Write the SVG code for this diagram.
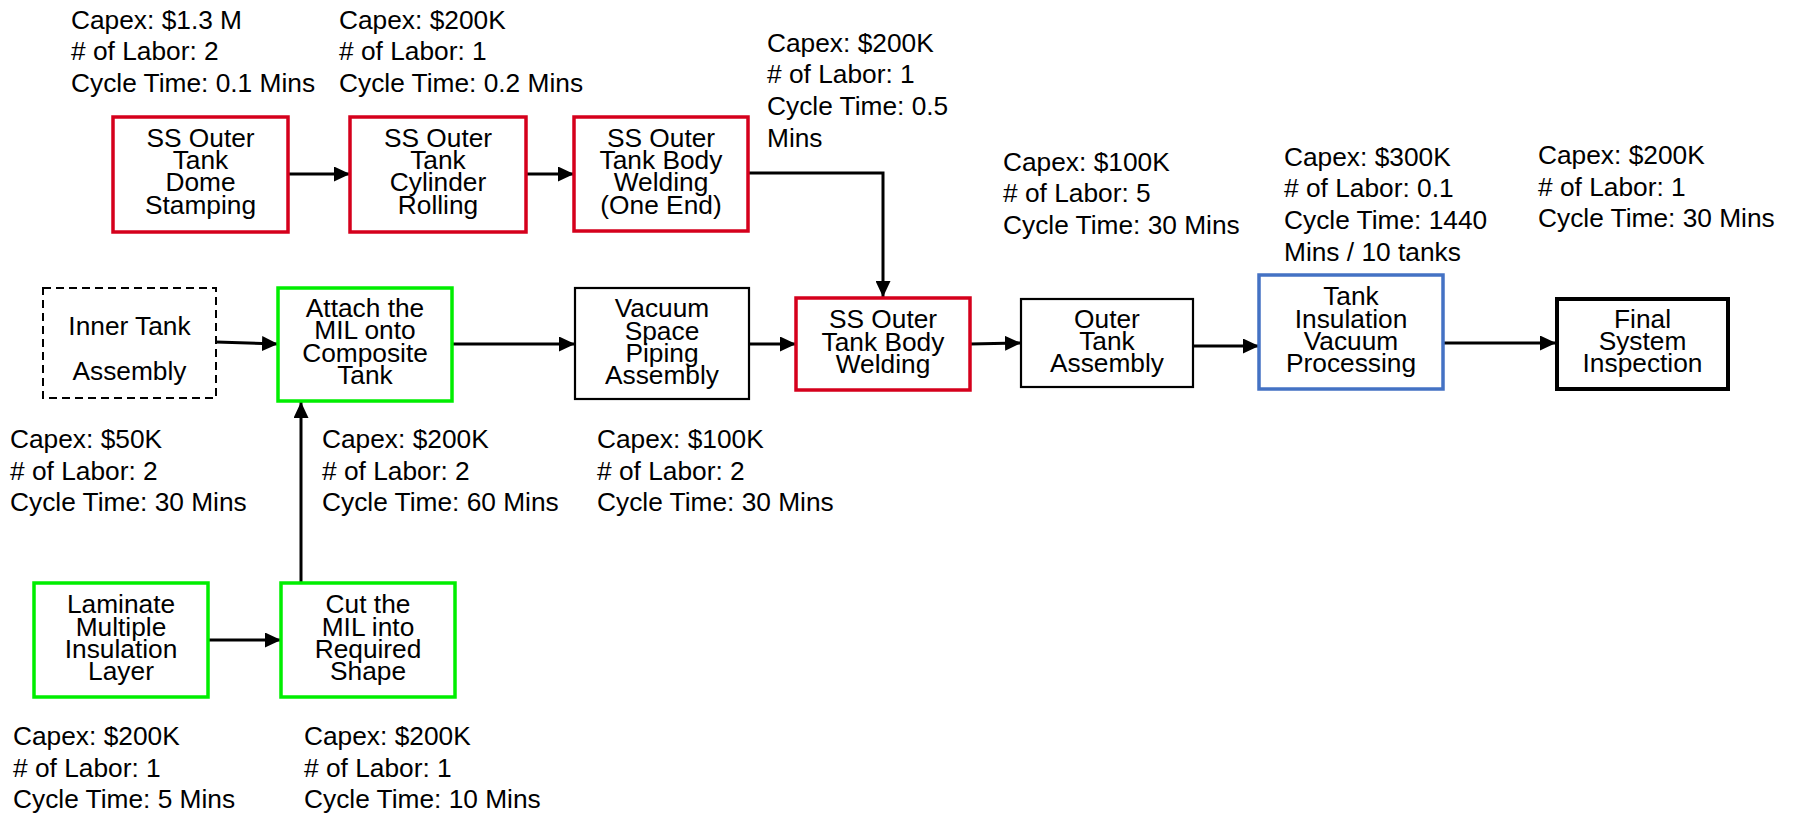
<svg xmlns="http://www.w3.org/2000/svg" width="1793" height="815" viewBox="0 0 1793 815">
<style>
  text { font-family: "Liberation Sans", Arial, sans-serif; font-size: 26.3px; fill: #000; }
  .lbl { text-anchor: middle; }
  .box { fill: #fff; stroke-width: 3.5; }
  .red { stroke: #D5001C; }
  .green { stroke: #00EE00; }
  .blue { stroke: #4472C4; }
  .plain { stroke: #000; stroke-width: 2.2; }
  .bold { stroke: #000; stroke-width: 4; }
  .dash { stroke: #000; stroke-width: 2; stroke-dasharray: 8 5; }
  .conn { fill: none; stroke: #000; stroke-width: 3; marker-end: url(#arr); }
</style>
<defs>
  <marker id="arr" markerUnits="userSpaceOnUse" markerWidth="16" markerHeight="15" refX="16" refY="7.5" orient="auto">
    <path d="M0,0 L16,7.5 L0,15 Z" fill="#000"/>
  </marker>
</defs>

<g id="connectors">
  <path class="conn" d="M288,174 L350,174"/>
  <path class="conn" d="M526,174 L574,174"/>
  <path class="conn" d="M748,173 L883,173 L883,297"/>
  <path class="conn" d="M216,342 L278,344"/>
  <path class="conn" d="M452,344 L575,344"/>
  <path class="conn" d="M749,344 L796,344"/>
  <path class="conn" d="M970,344 L1021,343"/>
  <path class="conn" d="M1193,346 L1259,346"/>
  <path class="conn" d="M1444,343 L1556,343"/>
  <path class="conn" d="M208,640 L281,640"/>
  <path class="conn" d="M301,584 L301,402"/>
</g>

<g id="node-dome">
  <rect class="box red" x="113" y="117" width="175" height="115"/>
  <text class="lbl" x="200.5" y="147">SS Outer</text>
  <text class="lbl" x="200.5" y="169.2">Tank</text>
  <text class="lbl" x="200.5" y="191.4">Dome</text>
  <text class="lbl" x="200.5" y="213.6">Stamping</text>
</g>
<g id="note-dome">
  <text x="71" y="28.5">Capex: $1.3 M</text>
  <text x="71" y="60"># of Labor: 2</text>
  <text x="71" y="91.5">Cycle Time: 0.1 Mins</text>
</g>

<g id="node-cylinder">
  <rect class="box red" x="350" y="117" width="176" height="115"/>
  <text class="lbl" x="438" y="147">SS Outer</text>
  <text class="lbl" x="438" y="169.2">Tank</text>
  <text class="lbl" x="438" y="191.4">Cylinder</text>
  <text class="lbl" x="438" y="213.6">Rolling</text>
</g>
<g id="note-cylinder">
  <text x="339" y="28.5">Capex: $200K</text>
  <text x="339" y="60"># of Labor: 1</text>
  <text x="339" y="91.5">Cycle Time: 0.2 Mins</text>
</g>

<g id="node-oneend">
  <rect class="box red" x="574" y="117" width="174" height="114"/>
  <text class="lbl" x="661" y="147">SS Outer</text>
  <text class="lbl" x="661" y="169.2">Tank Body</text>
  <text class="lbl" x="661" y="191.4">Welding</text>
  <text class="lbl" x="661" y="213.6">(One End)</text>
</g>
<g id="note-oneend">
  <text x="767" y="51.7">Capex: $200K</text>
  <text x="767" y="83.3"># of Labor: 1</text>
  <text x="767" y="115">Cycle Time: 0.5</text>
  <text x="767" y="146.7">Mins</text>
</g>

<g id="node-inner">
  <rect class="box dash" x="43" y="288" width="173" height="110"/>
  <text class="lbl" x="129.5" y="335">Inner Tank</text>
  <text class="lbl" x="129.5" y="380">Assembly</text>
</g>
<g id="note-inner">
  <text x="10" y="448">Capex: $50K</text>
  <text x="10" y="479.5"># of Labor: 2</text>
  <text x="10" y="511">Cycle Time: 30 Mins</text>
</g>

<g id="node-attach">
  <rect class="box green" x="278" y="288" width="174" height="113"/>
  <text class="lbl" x="365" y="316.7">Attach the</text>
  <text class="lbl" x="365" y="339">MIL onto</text>
  <text class="lbl" x="365" y="361.5">Composite</text>
  <text class="lbl" x="365" y="384">Tank</text>
</g>
<g id="note-attach">
  <text x="322" y="448">Capex: $200K</text>
  <text x="322" y="479.5"># of Labor: 2</text>
  <text x="322" y="511">Cycle Time: 60 Mins</text>
</g>

<g id="node-vacuum">
  <rect class="box plain" x="575" y="288" width="174" height="111"/>
  <text class="lbl" x="662" y="317.3">Vacuum</text>
  <text class="lbl" x="662" y="339.5">Space</text>
  <text class="lbl" x="662" y="361.7">Piping</text>
  <text class="lbl" x="662" y="384">Assembly</text>
</g>
<g id="note-vacuum">
  <text x="597" y="448">Capex: $100K</text>
  <text x="597" y="479.5"># of Labor: 2</text>
  <text x="597" y="511">Cycle Time: 30 Mins</text>
</g>

<g id="node-welding">
  <rect class="box red" x="796" y="298" width="174" height="92"/>
  <text class="lbl" x="883" y="328.3">SS Outer</text>
  <text class="lbl" x="883" y="350.5">Tank Body</text>
  <text class="lbl" x="883" y="372.7">Welding</text>
</g>

<g id="node-outer">
  <rect class="box plain" x="1021" y="299" width="172" height="88"/>
  <text class="lbl" x="1107" y="327.7">Outer</text>
  <text class="lbl" x="1107" y="350">Tank</text>
  <text class="lbl" x="1107" y="371.7">Assembly</text>
</g>
<g id="note-outer">
  <text x="1003" y="170.5">Capex: $100K</text>
  <text x="1003" y="202"># of Labor: 5</text>
  <text x="1003" y="233.5">Cycle Time: 30 Mins</text>
</g>

<g id="node-insulation">
  <rect class="box blue" x="1259" y="275" width="184" height="114"/>
  <text class="lbl" x="1351" y="305">Tank</text>
  <text class="lbl" x="1351" y="327.5">Insulation</text>
  <text class="lbl" x="1351" y="349.7">Vacuum</text>
  <text class="lbl" x="1351" y="371.7">Processing</text>
</g>
<g id="note-insulation">
  <text x="1284" y="165.7">Capex: $300K</text>
  <text x="1284" y="197.3"># of Labor: 0.1</text>
  <text x="1284" y="229">Cycle Time: 1440</text>
  <text x="1284" y="260.7">Mins / 10 tanks</text>
</g>

<g id="node-final">
  <rect class="box bold" x="1557" y="299" width="171" height="90"/>
  <text class="lbl" x="1642.5" y="328.3">Final</text>
  <text class="lbl" x="1642.5" y="350">System</text>
  <text class="lbl" x="1642.5" y="371.7">Inspection</text>
</g>
<g id="note-final">
  <text x="1538" y="164">Capex: $200K</text>
  <text x="1538" y="195.5"># of Labor: 1</text>
  <text x="1538" y="227">Cycle Time: 30 Mins</text>
</g>

<g id="node-laminate">
  <rect class="box green" x="34" y="583" width="174" height="114"/>
  <text class="lbl" x="121" y="613.3">Laminate</text>
  <text class="lbl" x="121" y="636">Multiple</text>
  <text class="lbl" x="121" y="658.3">Insulation</text>
  <text class="lbl" x="121" y="680">Layer</text>
</g>
<g id="note-laminate">
  <text x="13" y="745">Capex: $200K</text>
  <text x="13" y="776.5"># of Labor: 1</text>
  <text x="13" y="808">Cycle Time: 5 Mins</text>
</g>

<g id="node-cut">
  <rect class="box green" x="281" y="583" width="174" height="114"/>
  <text class="lbl" x="368" y="613.3">Cut the</text>
  <text class="lbl" x="368" y="636">MIL into</text>
  <text class="lbl" x="368" y="658.3">Required</text>
  <text class="lbl" x="368" y="680">Shape</text>
</g>
<g id="note-cut">
  <text x="304" y="745">Capex: $200K</text>
  <text x="304" y="776.5"># of Labor: 1</text>
  <text x="304" y="808">Cycle Time: 10 Mins</text>
</g>
</svg>
